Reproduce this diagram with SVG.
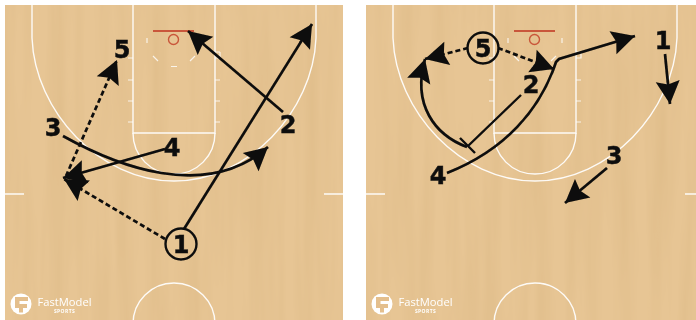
<svg xmlns="http://www.w3.org/2000/svg" width="696" height="320" viewBox="0 0 696 320">
<style>
.c{fill:none;stroke:#fff;stroke-width:1.4;opacity:.92}
.k{fill:none;stroke:#fff;stroke-width:1.2;opacity:.8}
.l{fill:none;stroke:#0a0a0a;stroke-width:2.7;marker-end:url(#a)}
.d{stroke-dasharray:5 3}
.s{fill:none;stroke:#0a0a0a;stroke-width:2.4}
.p{font-family:"DejaVu Sans",sans-serif;font-weight:700;font-size:24px;fill:#111;text-anchor:middle;stroke:#111;stroke-width:.5}
.r{fill:none;stroke:#111;stroke-width:2.4}
.h{fill:none;stroke:#c9563a;stroke-width:1.4}
.b{stroke:#c9563a;stroke-width:1.8}
.fm{font-family:"Open Sans",sans-serif;font-size:11.2px;fill:#fff}
.sp{font-family:"Open Sans",sans-serif;font-size:5px;font-weight:700;fill:#fff;text-anchor:middle;letter-spacing:.4px}
</style>
<defs>
<marker id="a" markerUnits="userSpaceOnUse" markerWidth="28" markerHeight="28" refX="24" refY="13" orient="auto" overflow="visible">
<path d="M24 13L1 1L4.500 13L1 25Z" fill="#0a0a0a"/>
</marker>
<filter id="w" x="0" y="0" width="100%" height="100%">
<feTurbulence type="fractalNoise" baseFrequency="0.06 0.004" numOctaves="3" seed="4"/>
<feColorMatrix values="0 0 0 0 .66  0 0 0 0 .44  0 0 0 0 .2  .6 0 0 0 -.2"/>
</filter>
<filter id="soft" x="-5%" y="-5%" width="110%" height="110%"><feGaussianBlur stdDeviation="0.4"/></filter>
<g id="court">
<path class="c" d="M133 5V133H215V5"/>
<path class="c" d="M133 133C133 156 151 174 174 174C197 174 215 156 215 133"/>
<path class="c" d="M32 5V38C35 112 100 181 174 181C248 181 313 112 316 38V5"/>
<path class="c" d="M133 324A41 41 0 0 1 215 324"/>
<path class="c" d="M5 194H24M324 194H343"/>
<path class="k" d="M128 80H133M128 101H133M128 122H133M215 80H220M215 101H220M215 122H220"/>
<path class="k" d="M128 58H133M220 52V58H215M215 52H220"/>
<path class="k" d="M147 38V43M201 38V43M153 56L158 61M195 56L190 61M171 66.500H177"/>
<path class="b" d="M153 31H194"/>
<circle class="h" cx="173.500" cy="39.500" r="5"/>
<g>
<circle cx="21" cy="304" r="10.500" fill="#fff"/>
<path d="M15 297H28V301H19.500V304H27V308H23V312.500H19V308H15Z" fill="#e4bf8d"/>
<text class="fm" x="37.500" y="306">FastModel</text>
<text class="sp" x="64.500" y="313">SPORTS</text>
</g>
</g>
</defs>
<rect width="696" height="320" fill="#fff"/>
<g id="floors">
<rect x="5" y="5" width="338" height="315" fill="#e7c594"/>
<rect x="366" y="5" width="330" height="315" fill="#e7c594"/>
<rect x="5" y="5" width="338" height="315" filter="url(#w)"/>
<rect x="366" y="5" width="330" height="315" filter="url(#w)"/>
</g>
<g filter="url(#soft)">
<use href="#court" id="court-left"/>
<use href="#court" id="court-right" x="361"/>
<g id="connectors">
<path class="l" d="M184 229L312 24"/>
<path class="l" d="M283 112L188 31"/>
<path class="l" d="M63 136C115 165 205 202 268 147"/>
<path class="l" d="M165 149L63 178"/>
<path class="l d" d="M165 239L64 179"/>
<path class="l d" d="M66 176L117 60"/>
<path class="l d" d="M468 48L425 59"/>
<path class="l d" d="M498 48L554 69"/>
<path class="l" d="M665 54L670 104"/>
<path class="l" d="M607 168L565 203"/>
<path class="l" d="M447 173C505 150 540 110 556 62L559 59L635 36"/>
<path class="s" d="M521 95L468 146M460 138L475 153"/>
<path class="l" d="M467 147C435 135 412 105 425 59"/>
</g>
<g id="p1-5"><text class="p" x="122" y="58">5</text></g>
<g id="p1-3"><text class="p" x="53" y="136">3</text></g>
<g id="p1-2"><text class="p" x="288" y="133">2</text></g>
<g id="p1-4"><text class="p" x="172" y="156">4</text></g>
<g id="p1-1"><circle class="r" cx="181" cy="244" r="15.500"/><text class="p" x="181" y="253">1</text></g>
<g id="p2-5"><circle class="r" cx="483" cy="48" r="15.500"/><text class="p" x="483" y="57">5</text></g>
<g id="p2-2"><text class="p" x="531" y="93">2</text></g>
<g id="p2-1"><text class="p" x="663" y="49">1</text></g>
<g id="p2-3"><text class="p" x="614" y="164">3</text></g>
<g id="p2-4"><text class="p" x="438" y="184">4</text></g>
</g>
</svg>
